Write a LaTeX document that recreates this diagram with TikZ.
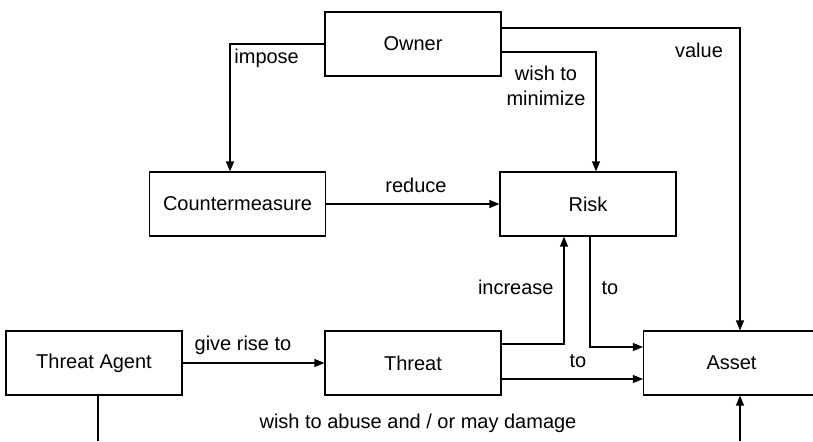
\documentclass[tikz,border=0pt]{standalone}
\usepackage{fontspec}
\setmainfont{Liberation Sans}
\usepackage{tikz}
\usetikzlibrary {arrows.meta,
                 calc,
                 positioning}
\tikzset{
        base/.style={draw, line width=0.6pt, align=center, inner sep=0pt,
                     minimum height=32pt},
        proc/.style={base, rectangle, minimum width=88pt},
        myline/.style={line width=0.6pt},
        myarrow/.style={-{Triangle[length=5pt, width=4pt]}, myline},
        lbl/.style={font=\fontsize{10pt}{12.5pt}\selectfont, inner sep=0pt},
 }

\begin{document}
\begin{tikzpicture}[x=0.5pt, y=-0.5pt, font=\fontsize{10pt}{12.5pt}\selectfont]
    \useasboundingbox (0,0) rectangle (813,441);
    \node[proc] (owner) at (413,44) {Owner};
    \node[proc] (cm) at (237.5,204) {Countermeasure};
    \node[proc] (risk) at (588,204) {Risk};
    \node[proc] (agent) at (94,363) {Threat Agent};
    \node[proc] (threat) at (413,363) {Threat};
    \node[proc] (asset) at (731.5,363) {Asset};
    \coordinate (abuseL) at (98,441);
    \coordinate (abuseR) at (740,441);

    \draw[myarrow] (owner.west) -| ([xshift=-3.75pt]cm.north);
    \draw[myarrow] ([yshift=8pt]owner.east) -| ([xshift=4.25pt]asset.north);
    \draw[myarrow] ([yshift=-4pt]owner.east) -| ([xshift=4pt]risk.north);
    \draw[myarrow] (cm) -- (risk);
    \draw[myarrow] (agent) -- (threat);
    \draw[myarrow] ([yshift=9.5pt]threat.east) -| ([xshift=-12pt]risk.south);
    \draw[myarrow] ([xshift=1pt]risk.south) |- ([yshift=8pt]asset.west);
    \draw[myarrow] ([yshift=-8pt]threat.east) -- ([yshift=-8pt]asset.west);
    \draw[myline] (abuseL |- agent.south) -- (abuseL);
    \draw[myarrow] (abuseR) -- (abuseR |- asset.south);

    \node[lbl, anchor=west] (limpose) at (234,58) {impose};
    \node[lbl] (lvalue) at (699,50) {value};
    \node[lbl, align=center] (lwish) at (546,86) {wish to\\minimize};
    \node[lbl] (lreduce) at (416,185) {reduce};
    \node[lbl] (lrise) at (243,345) {give rise to};
    \node[lbl, anchor=east] (lincrease) at (554,287) {increase};
    \node[lbl] (lto) at (610,288) {to};
    \node[lbl] (lto2) at (578,361) {to};
    \node[lbl] (labuse) at (418,423) {wish to abuse and / or may damage};
\end{tikzpicture}
\end{document}
